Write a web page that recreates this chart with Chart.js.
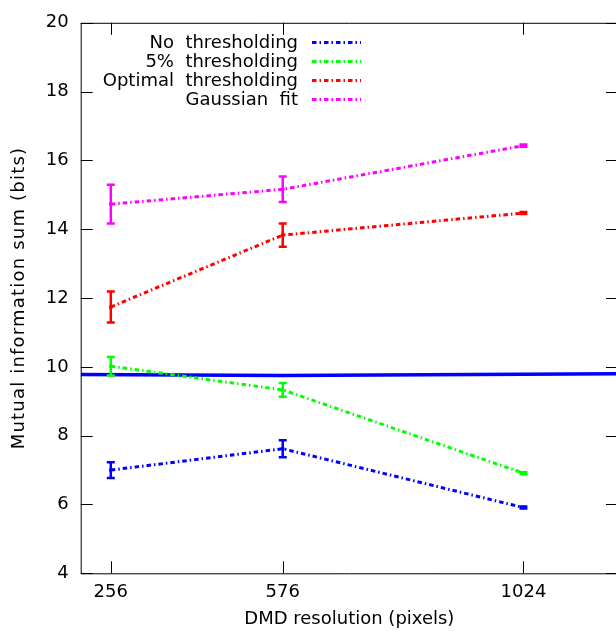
<!DOCTYPE html>
<html>
<head>
<meta charset="utf-8">
<script src="https://cdn.jsdelivr.net/npm/chart.js@4.4.1/dist/chart.umd.min.js"></script>
<style>
  html, body { margin: 0; padding: 0; background: #fff; overflow: hidden; }
  #wrap { width: 622px; height: 631px; }
</style>
</head>
<body>
<div id="wrap"><canvas id="grafica" width="622" height="631"></canvas></div>
<script>
// resoluciones DMD (eje x) y valores medidos
const resoluciones = [256, 576, 1024];
const xTicks = [256, 576, 1024];
const yTicks = [4, 6, 8, 10, 12, 14, 16, 18, 20];

const sinUmbral = [7.0, 7.62, 5.91];
const sinUmbralErr = [0.23, 0.25, 0.03];
const umbral5 = [10.02, 9.33, 6.91];
const umbral5Err = [0.27, 0.2, 0.03];
const umbralOptimo = [11.74, 13.83, 14.47];
const umbralOptimoErr = [0.45, 0.34, 0.03];
const ajusteGauss = [14.73, 15.16, 16.43];
const ajusteGaussErr = [0.56, 0.37, 0.03];

// linea horizontal azul continua
const limiteX = [200, 576, 1200];
const limiteY = [9.78, 9.75, 9.80];

const etiquetas = ["No  thresholding", "5%  thresholding", "Optimal  thresholding", "Gaussian  fit"];
const colores = ["#0000ff", "#00ff00", "#ff0000", "#ff00ff"];
const guion = [4.5, 3, 1.5, 3];
const fuente = "DejaVu Sans";
const tituloY = "Mutual information sum (bits)";

function puntos(xs, ys) {
  return xs.map((x, i) => ({ x: x, y: ys[i] }));
}

const series = [
  { data: sinUmbral, err: sinUmbralErr },
  { data: umbral5, err: umbral5Err },
  { data: umbralOptimo, err: umbralOptimoErr },
  { data: ajusteGauss, err: ajusteGaussErr }
];

const datasets = series.map((s, i) => ({
  label: etiquetas[i],
  data: puntos(resoluciones, s.data),
  errores: s.err,
  borderColor: colores[i],
  backgroundColor: colores[i],
  borderWidth: 3,
  borderDash: guion,
  pointRadius: 2,
  pointBorderWidth: 0,
  tension: 0,
  fill: false
}));

datasets.push({
  label: "",
  data: puntos(limiteX, limiteY),
  borderColor: "#0000ff",
  borderWidth: 3.5,
  pointRadius: 0,
  tension: 0,
  fill: false
});

// barras de error
const barrasError = {
  id: "barrasError",
  afterDatasetsDraw(chart) {
    const ctx = chart.ctx;
    const xs = chart.scales.x, ys = chart.scales.y;
    chart.data.datasets.forEach(ds => {
      if (!ds.errores) return;
      ctx.save();
      ctx.strokeStyle = ds.borderColor;
      ctx.lineWidth = 2.5;
      ds.data.forEach((p, i) => {
        const e = ds.errores[i];
        const px = xs.getPixelForValue(p.x);
        const y1 = ys.getPixelForValue(p.y - e);
        const y2 = ys.getPixelForValue(p.y + e);
        ctx.beginPath();
        ctx.moveTo(px, y1); ctx.lineTo(px, y2);
        ctx.moveTo(px - 4, y1); ctx.lineTo(px + 4, y1);
        ctx.moveTo(px - 4, y2); ctx.lineTo(px + 4, y2);
        ctx.stroke();
      });
      ctx.restore();
    });
  }
};

// marco, marcas hacia dentro, leyenda y titulo del eje y
const marco = {
  id: "marco",
  afterDraw(chart) {
    const ctx = chart.ctx;
    const a = chart.chartArea;
    const xs = chart.scales.x, ys = chart.scales.y;
    ctx.save();
    ctx.strokeStyle = "#000";
    ctx.lineWidth = 1;
    ctx.beginPath();
    ctx.moveTo(a.left + 0.5, a.top + 0.5);
    ctx.lineTo(a.right, a.top + 0.5);
    ctx.moveTo(a.left + 0.5, a.top);
    ctx.lineTo(a.left + 0.5, a.bottom + 0.5);
    ctx.lineTo(a.right, a.bottom + 0.5);
    ctx.lineTo(a.right, a.top);
    xTicks.forEach(v => {
      const px = Math.round(xs.getPixelForValue(v)) + 0.5;
      ctx.moveTo(px, a.bottom); ctx.lineTo(px, a.bottom - 12);
      ctx.moveTo(px, a.top); ctx.lineTo(px, a.top + 12);
    });
    yTicks.forEach(v => {
      const py = Math.round(ys.getPixelForValue(v)) + 0.5;
      ctx.moveTo(a.left, py); ctx.lineTo(a.left + 12, py);
      ctx.moveTo(a.right, py); ctx.lineTo(a.right - 12, py);
    });
    ctx.stroke();

    // leyenda
    ctx.font = "18px '" + fuente + "'";
    ctx.fillStyle = "#000";
    ctx.textAlign = "right";
    ctx.textBaseline = "middle";
    etiquetas.forEach((t, i) => {
      const y = 42.5 + i * 19;
      ctx.fillText(t, 298, y + 1);
      ctx.strokeStyle = colores[i];
      ctx.lineWidth = 3;
      ctx.setLineDash(guion);
      ctx.beginPath();
      ctx.moveTo(312, y); ctx.lineTo(361, y);
      ctx.stroke();
      ctx.setLineDash([]);
    });

    // titulo del eje y (espaciado mas ancho como en el original)
    ctx.translate(19.5, (a.top + a.bottom) / 2);
    ctx.rotate(-Math.PI / 2);
    ctx.textAlign = "center";
    ctx.letterSpacing = "1.2px";
    ctx.fillText(tituloY, 0, 0);
    ctx.restore();
  }
};

const ctx = document.getElementById("grafica").getContext("2d");
new Chart(ctx, {
  type: "line",
  data: { datasets: datasets },
  plugins: [barrasError, marco],
  options: {
    responsive: false,
    animation: false,
    layout: { padding: { left: 0, right: 0, top: 15, bottom: 0 } },
    plugins: { legend: { display: false }, tooltip: { enabled: false } },
    scales: {
      x: {
        type: "linear",
        min: 200,
        max: 1200,
        afterBuildTicks: s => { s.ticks = xTicks.map(v => ({ value: v })); },
        afterFit: s => { s.height = 57.7; },
        grid: { display: false, drawTicks: false },
        border: { display: false },
        ticks: {
          color: "#000",
          padding: 8,
          maxRotation: 0,
          autoSkip: false,
          font: { family: fuente, size: 18 },
          callback: v => String(v)
        },
        title: {
          display: true,
          text: "DMD resolution (pixels)",
          color: "#000",
          font: { family: fuente, size: 18 },
          padding: { top: 0, bottom: 1 }
        }
      },
      y: {
        min: 4,
        max: 20,
        afterBuildTicks: s => { s.ticks = yTicks.map(v => ({ value: v })); },
        afterFit: s => { s.width = 80.7; },
        grid: { display: false, drawTicks: false },
        border: { display: false },
        ticks: {
          color: "#000",
          padding: 12,
          font: { family: fuente, size: 18 }
        },
        title: { display: false }
      }
    }
  }
});
</script>
</body>
</html>
